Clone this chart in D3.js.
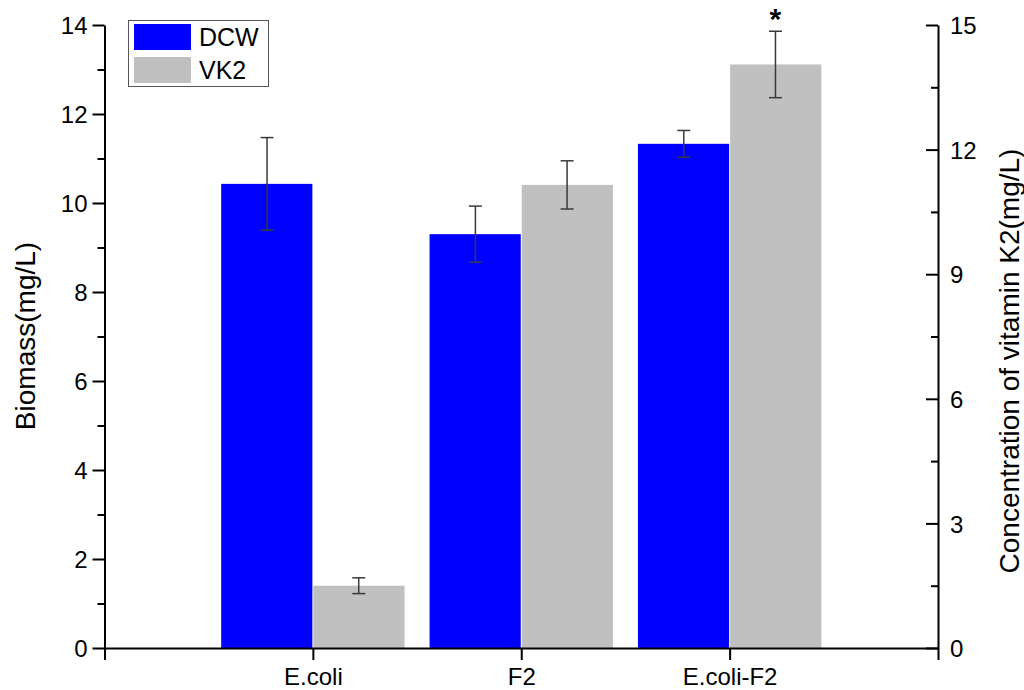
<!DOCTYPE html>
<html>
<head>
<meta charset="utf-8">
<script src="https://cdn.jsdelivr.net/npm/d3@7"></script>
<style>
  body { margin: 0; background: #fff; }
  svg { display: block; }
  text { font-family: "Liberation Sans", Arial, sans-serif; fill: #000; }
</style>
</head>
<body>
<svg id="chart" width="1024" height="690"></svg>
<script>
// ---- data ----
const categories = ["E.coli", "F2", "E.coli-F2"];
const dcwValues = [10.43, 9.30, 11.33];
const dcwErrors = [1.04, 0.63, 0.30];
const vk2Values = [1.50, 11.15, 14.05];
const vk2Errors = [0.19, 0.58, 0.80];
const leftTicks = [0, 2, 4, 6, 8, 10, 12, 14];
const rightTicks = [0, 3, 6, 9, 12, 15];
const seriesNames = ["DCW", "VK2"];
const significance = ["", "", "*"];

// ---- layout ----
const svg = d3.select("#chart");
const X0 = 104.5, X1 = 938, Y0 = 648, Y1 = 25;
const colors = { DCW: "#0000ff", VK2: "#c0c0c0" };

const x = d3.scaleLinear().domain([0, categories.length + 1]).range([X0, X1]);
const yL = d3.scaleLinear().domain([0, 14]).range([Y0, Y1]);
const yR = d3.scaleLinear().domain([0, 15]).range([Y0, Y1]);
const barW = 0.44; // in category units

const catPos = (i) => i + 1;

// bars
const gBars = svg.append("g");
categories.forEach((c, i) => {
  const cx = catPos(i);
  gBars.append("rect")
    .attr("x", x(cx - barW)).attr("width", x(cx) - x(cx - barW) - 0.5)
    .attr("y", yL(dcwValues[i])).attr("height", yL(0) - yL(dcwValues[i]))
    .attr("fill", colors.DCW);
  gBars.append("rect")
    .attr("x", x(cx) + 0.5).attr("width", x(cx + barW) - x(cx) - 0.5)
    .attr("y", yR(vk2Values[i])).attr("height", yR(0) - yR(vk2Values[i]))
    .attr("fill", colors.VK2);
});

// error bars
const gErr = svg.append("g").attr("stroke", "#3a3a3a").attr("stroke-width", 1.5).attr("fill", "none");
function errBar(px, yScale, v, e) {
  const t = yScale(v + e), b = yScale(v - e);
  gErr.append("line").attr("x1", px).attr("x2", px).attr("y1", t).attr("y2", b);
  gErr.append("line").attr("x1", px - 6.5).attr("x2", px + 6.5).attr("y1", t).attr("y2", t);
  gErr.append("line").attr("x1", px - 6.5).attr("x2", px + 6.5).attr("y1", b).attr("y2", b);
}
categories.forEach((c, i) => {
  const cx = catPos(i);
  errBar(x(cx - barW / 2), yL, dcwValues[i], dcwErrors[i]);
  errBar(x(cx + barW / 2), yR, vk2Values[i], vk2Errors[i]);
  if (significance[i]) {
    svg.append("text")
      .attr("x", x(cx + barW / 2)).attr("y", yR(vk2Values[i] + vk2Errors[i]) - 2)
      .attr("text-anchor", "middle")
      .attr("font-size", 30).attr("font-weight", "bold")
      .text(significance[i]);
  }
});

// axes
const axisStyle = (g) => {
  g.selectAll(".domain").attr("stroke", "#000").attr("stroke-width", 2);
  g.selectAll(".tick line").attr("stroke", "#000").attr("stroke-width", 2);
  g.selectAll(".tick text").attr("font-size", 24).attr("font-family", "Liberation Sans, Arial, sans-serif");
};

// left axis: major + minor
const leftMinor = d3.range(1, 14, 2);
svg.append("g").attr("transform", `translate(${X0},0)`)
  .call(d3.axisLeft(yL).tickValues(leftMinor).tickSize(7).tickFormat("").tickSizeOuter(0))
  .call(axisStyle).call(g => g.select(".domain").remove());
svg.append("g").attr("transform", `translate(${X0},0)`)
  .call(d3.axisLeft(yL).tickValues(leftTicks).tickSize(12).tickPadding(5).tickSizeOuter(0))
  .call(axisStyle)
  .call(g => g.selectAll(".tick text").attr("dy", "0.36em"));

// right axis: ticks inward
const rightMinor = d3.range(1.5, 15, 3);
svg.append("g").attr("transform", `translate(${X1},0)`)
  .call(d3.axisLeft(yR).tickValues(rightMinor).tickSize(7).tickFormat("").tickSizeOuter(0))
  .call(axisStyle).call(g => g.select(".domain").remove());
svg.append("g").attr("transform", `translate(${X1},0)`)
  .call(d3.axisRight(yR).tickValues(rightTicks).tickSize(0).tickPadding(12).tickSizeOuter(0))
  .call(axisStyle)
  .call(g => g.selectAll(".tick text").attr("dy", "0.36em"));
svg.append("g").attr("transform", `translate(${X1},0)`)
  .call(d3.axisLeft(yR).tickValues(rightTicks).tickSize(12).tickFormat("").tickSizeOuter(0))
  .call(axisStyle).call(g => g.select(".domain").remove());

// bottom axis
const xTickVals = [0, 1, 2, 3, 4];
svg.append("g").attr("transform", `translate(0,${Y0})`)
  .call(d3.axisBottom(x).tickValues(xTickVals).tickSize(12).tickPadding(6).tickSizeOuter(0)
    .tickFormat(d => (d >= 1 && d <= categories.length) ? categories[d - 1] : ""))
  .call(axisStyle)
  .call(g => g.selectAll(".tick text").attr("dy", "0.78em"));

// axis titles
svg.append("text")
  .attr("transform", `translate(35,336) rotate(-90)`)
  .attr("text-anchor", "middle").attr("font-size", 28)
  .text("Biomass(mg/L)");
svg.append("text")
  .attr("transform", `translate(1019,361) rotate(-90)`)
  .attr("text-anchor", "middle").attr("font-size", 28)
  .text("Concentration of vitamin K2(mg/L)");

// legend
const lg = svg.append("g");
lg.append("rect").attr("x", 128.5).attr("y", 20.5).attr("width", 140).attr("height", 66)
  .attr("fill", "#fff").attr("stroke", "#555").attr("stroke-width", 1);
seriesNames.forEach((s, i) => {
  lg.append("rect").attr("x", 134).attr("y", 24 + i * 33).attr("width", 57).attr("height", 26)
    .attr("fill", colors[s]);
  lg.append("text").attr("x", 199).attr("y", 46 + i * 33).attr("font-size", 25).text(s);
});
</script>
</body>
</html>
